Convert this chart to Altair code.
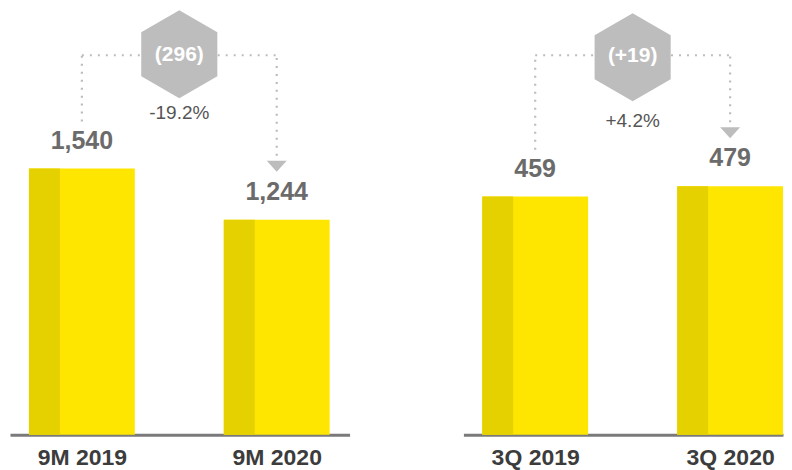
import altair as alt
import pandas as pd

# ---- data ----
cats_9m = ["9M 2019", "9M 2020"]
vals_9m = [1540, 1244]
change_9m = "(296)"
pct_9m = "-19.2%"

cats_3q = ["3Q 2019", "3Q 2020"]
vals_3q = [459, 479]
change_3q = "(+19)"
pct_3q = "+4.2%"

positions = [1, 3]

# ---- styles ----
LIGHT = "#FFE600"
DARK = "#E5D100"
GREY = "#BDBDBD"
FONT = "Liberation Sans"
HEX = "M0,-1L0.866,-0.5L0.866,0.5L0,1L-0.866,0.5L-0.866,-0.5Z"
TRI = "M-1,-0.55L1,-0.55L0,0.55Z"
DASH = [2, 6]
PLOT_H = 427


def panel(cats, vals, change, pct, xdomain, ydomain, width,
          line_y, hex_y, hex_text_y, pct_y):
    bars = pd.DataFrame({
        "pos": positions,
        "value": vals,
        "cat": cats,
        "label": [f"{v:,}" for v in vals],
    })
    ann = pd.DataFrame({
        "x1": [positions[0]],
        "x2": [positions[1]],
        "mid": [(positions[0] + positions[1]) / 2],
        "v1": [vals[0]],
        "v2": [vals[1]],
        "change": [change],
        "pct": [pct],
    })
    label_expr = " : ".join(
        f"datum.value == {p} ? '{c}'" for p, c in zip(positions, cats)
    ) + " : ''"
    xscale = alt.Scale(domain=xdomain, nice=False, zero=False)
    xaxis = alt.Axis(
        values=positions, labelExpr=label_expr, title=None, grid=False,
        ticks=False, tickSize=0, domainColor="#7a7a7a", domainWidth=3,
        labelFont=FONT, labelFontSize=23, labelFontWeight="bold",
        labelColor="#3c3c3c", labelPadding=12,
    )
    yscale = alt.Scale(domain=ydomain, nice=False, zero=True)

    def X(f):
        return alt.X(f"{f}:Q", scale=xscale, axis=xaxis)

    def Y(f):
        return alt.Y(f"{f}:Q", scale=yscale, axis=None)

    b = alt.Chart(bars)
    a = alt.Chart(ann)

    light = b.mark_bar(size=106, color=LIGHT).encode(x=X("pos"), y=Y("value"))
    dark = b.mark_bar(size=31, xOffset=-37.5, color=DARK).encode(
        x=X("pos"), y=Y("value"))
    vlabel = b.mark_text(dy=-28, baseline="middle", fontSize=25,
                         fontWeight="bold", color="#6b6b6b", font=FONT).encode(
        x=X("pos"), y=Y("value"), text="label:N")

    vert1 = a.mark_rule(strokeDash=DASH, strokeWidth=2.2, color=GREY,
                        yOffset=-47).encode(
        x=X("x1"), y=Y("v1"), y2=alt.value(line_y))
    vert2 = a.mark_rule(strokeDash=DASH, strokeWidth=2.2, color=GREY,
                        yOffset=-56).encode(
        x=X("x2"), y=Y("v2"), y2=alt.value(line_y))
    horiz = a.mark_rule(strokeDash=DASH, strokeWidth=2.2, color=GREY).encode(
        x=X("x1"), x2="x2:Q", y=alt.value(line_y))
    tri = a.mark_point(shape=TRI, size=400, filled=True, fill=GREY,
                       opacity=1, strokeWidth=0, yOffset=-53.5).encode(
        x=X("x2"), y=Y("v2"))
    hexm = a.mark_point(shape=HEX, size=7744, filled=True, fill=GREY,
                        opacity=1, strokeWidth=0).encode(
        x=X("mid"), y=alt.value(hex_y))
    hext = a.mark_text(fontSize=21, fontWeight="bold", color="white",
                       baseline="middle", font=FONT).encode(
        x=X("mid"), y=alt.value(hex_text_y), text="change:N")
    pctt = a.mark_text(fontSize=19, color="#555555", baseline="middle",
                       font=FONT).encode(
        x=X("mid"), y=alt.value(pct_y), text="pct:N")

    return alt.layer(light, dark, vlabel, vert1, vert2, horiz, tri, hexm,
                     hext, pctt).properties(width=width, height=PLOT_H)


left = panel(cats_9m, vals_9m, change_9m, pct_9m,
             xdomain=[0.3134, 3.6965], ydomain=[0, 2467], width=340,
             line_y=47, hex_y=46, hex_text_y=46.5, pct_y=104.7)
right = panel(cats_3q, vals_3q, change_3q, pct_3q,
              xdomain=[0.315, 3.4913], ydomain=[0, 822], width=320,
              line_y=47, hex_y=49, hex_text_y=47.5, pct_y=112.7)

chart = alt.hconcat(left, right, spacing=114).configure_view(
    stroke=None
).properties(padding={"left": 2, "top": 0, "right": 0, "bottom": 0})

chart.save("out.html", embed_options={"renderer": "svg", "actions": False})
